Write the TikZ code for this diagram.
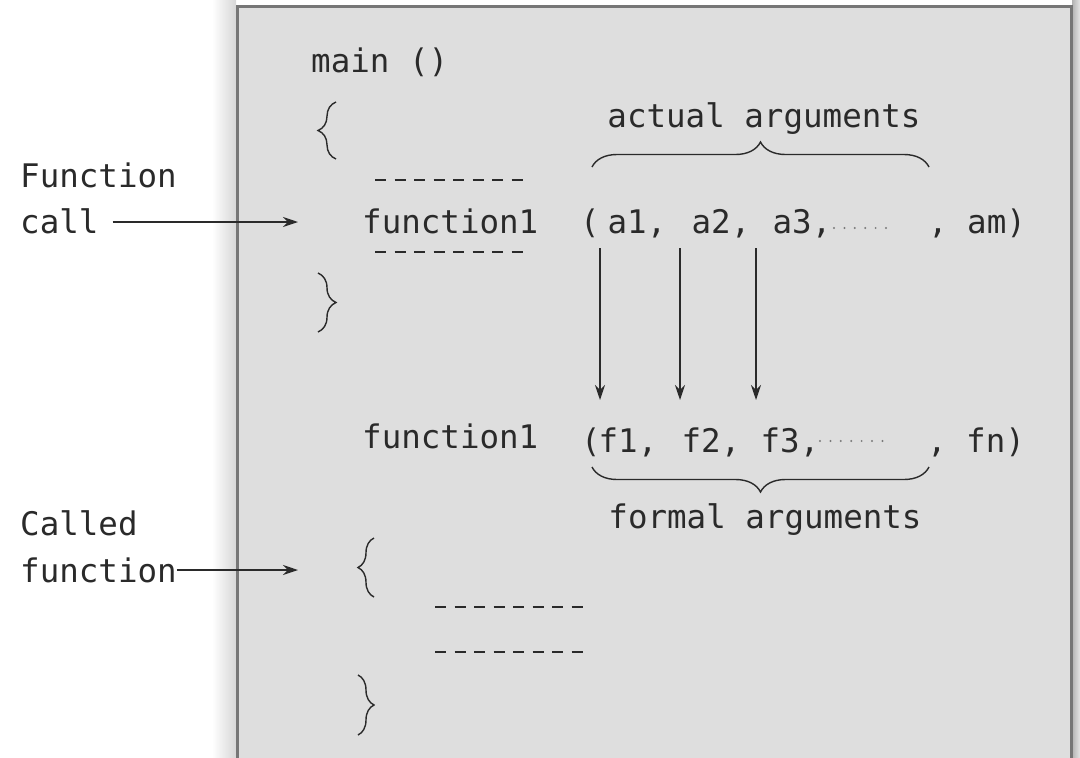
\documentclass[tikz,border=0pt]{standalone}
\usepackage{fontspec}
\setmonofont{DejaVu Sans Mono}
\usetikzlibrary{arrows.meta,decorations.pathreplacing}
\definecolor{boxfill}{HTML}{DEDEDE}
\definecolor{boxedge}{HTML}{767676}
\definecolor{ink}{HTML}{2A2A2A}
\definecolor{dotc}{HTML}{7A7A7A}
\begin{document}
\begin{tikzpicture}[x=1pt,y=-1pt,
  code/.style={font=\ttfamily\fontsize{32.5}{39}\selectfont, text=ink, inner sep=0pt, anchor=base west},
  codec/.style={code, anchor=base},
  conn/.style={draw=ink, line width=1.6pt, -{Stealth[length=15pt,width=10pt]}},
  cbrace/.style={draw=ink, line width=1.4pt, decorate, decoration={brace, amplitude=#1}},
  dashline/.style={draw=ink, line width=1.6pt, dash pattern=on 11pt off 8.5pt},
  dotline/.style={draw=dotc, line width=2.2pt, line cap=round, dash pattern=on 0pt off 10.4pt},
]
\useasboundingbox (0,0) rectangle (1080,758);
% shadow and box
\shade[left color=white, right color=black!16] (212,0) rectangle (236,758);
\shade[left color=black!30, right color=black!10] (1072,0) rectangle (1080,758);
\draw[fill=boxfill, draw=boxedge, line width=3pt] (237,6) rectangle (1071,790);

% main
\node[code] (main) at (311,72) {main ()};
\draw[cbrace=18pt] (336,159) -- (336,102);
\draw[dashline] (375,180) -- (527,180);
\node[code] (fcall) at (362,233) {function1};
\draw[dashline] (375,252) -- (527,252);
\draw[cbrace=18pt] (318,273) -- (318,332);

% actual arguments
\node[codec] (actual) at (764,127) {actual arguments};
\draw[cbrace=25pt] (592,167) -- (929,167);
\node[codec] (lpa) at (590,233) {(};
\node[codec] (a1) at (637,233) {a1,};
\node[codec] (a2) at (721,233) {a2,};
\node[codec] (a3) at (802,233) {a3,};
\draw[dotline] (834,228) -- (886,228);
\node[codec] (am) at (977,233) {, am)};

% argument arrows
\coordinate (s1) at (600,248); \coordinate (e1) at (600,400);
\coordinate (s2) at (680,248); \coordinate (e2) at (680,400);
\coordinate (s3) at (756,248); \coordinate (e3) at (756,400);
\draw[conn] (s1) -- (e1);
\draw[conn] (s2) -- (e2);
\draw[conn] (s3) -- (e3);

% called function
\node[code] (fdef) at (362,448) {function1};
\node[codec] (lpf) at (591,452) {(};
\node[codec] (f1) at (628,452) {f1,};
\node[codec] (f2) at (711,452) {f2,};
\node[codec] (f3) at (790,452) {f3,};
\draw[dotline] (820,441) -- (884,441);
\node[codec] (fn) at (976,452) {, fn)};
\draw[cbrace=25pt] (929,467) -- (592,467);
\node[codec] (formal) at (765,528) {formal arguments};

\draw[cbrace=16pt] (374,597) -- (374,538);
\draw[dashline] (435,607) -- (587,607);
\draw[dashline] (435,652) -- (587,652);
\draw[cbrace=16pt] (358,675) -- (358,735);

% left labels
\node[code] (lab1a) at (20,187) {Function};
\node[code] (lab1b) at (20,233) {call};
\coordinate (t1) at (298,222);
\draw[conn] (lab1b.east |- t1) ++(14,0) coordinate (c1) -- (t1);
\node[code] (lab2a) at (20,535) {Called};
\node[code] (lab2b) at (20,582) {function};
\coordinate (t2) at (298,570);
\draw[conn] (lab2b.east |- t2) -- (t2);
\end{tikzpicture}
\end{document}
